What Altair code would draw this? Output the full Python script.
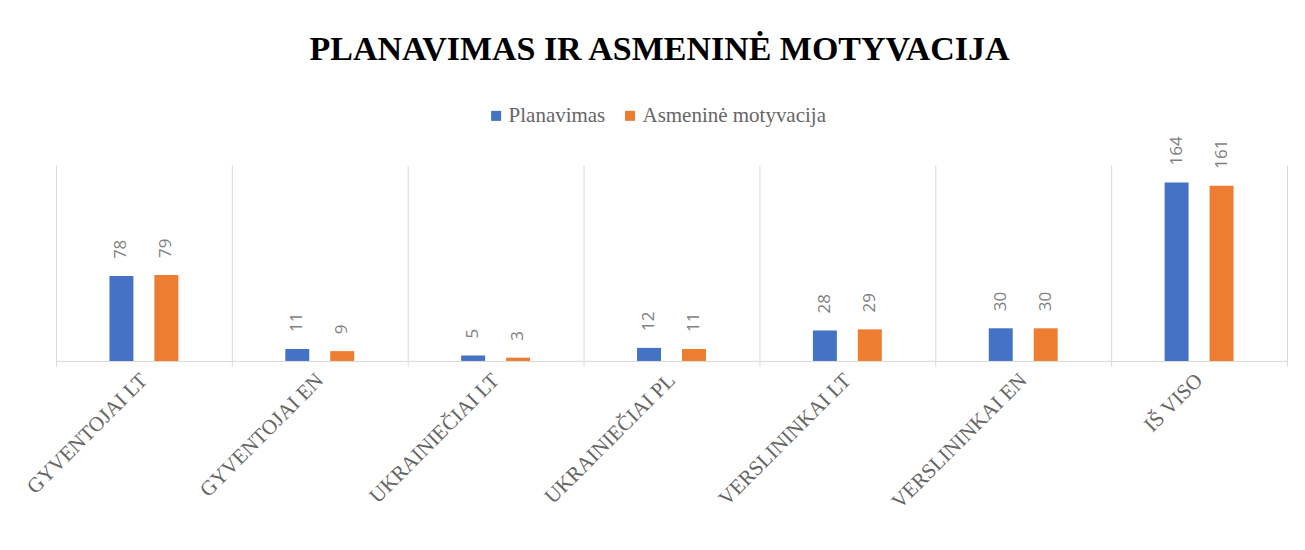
import altair as alt
import pandas as pd

categories = ["GYVENTOJAI LT", "GYVENTOJAI EN", "UKRAINIEČIAI LT", "UKRAINIEČIAI PL",
              "VERSLININKAI LT", "VERSLININKAI EN", "IŠ VISO"]
planavimas = [78, 11, 5, 12, 28, 30, 164]
motyvacija = [79, 9, 3, 11, 29, 30, 161]
series = ["Planavimas", "Asmeninė motyvacija"]
colors = ["#4472C4", "#ED7D31"]

rows = []
for c, p, m in zip(categories, planavimas, motyvacija):
    rows.append({"cat": c, "series": series[0], "value": p})
    rows.append({"cat": c, "series": series[1], "value": m})
df = pd.DataFrame(rows)

x = alt.X("cat:N", sort=categories, title=None,
          scale=alt.Scale(paddingInner=0, paddingOuter=0),
          axis=alt.Axis(labelAngle=-45, labelAlign="right", labelBaseline="middle",
                        labelFont="Liberation Serif", labelFontSize=21, labelColor="#666666",
                        labelPadding=11, tickBand="extent", grid=True, gridColor="#d9d9d9",
                        domainColor="#d9d9d9", tickColor="#d9d9d9", tickSize=5,
                        labelOverlap=False, labelLimit=400))
offset_domain = ["_l"] + series + ["_r"]
xo = alt.XOffset("series:N",
                 scale=alt.Scale(domain=offset_domain, paddingInner=0.467, paddingOuter=0.19))
y = alt.Y("value:Q", scale=alt.Scale(domain=[0, 180]), axis=None)

base = alt.Chart(df).encode(x=x, xOffset=xo, y=y)

bars = base.mark_bar().encode(
    color=alt.Color("series:N", sort=series,
                    scale=alt.Scale(domain=series, range=colors),
                    legend=alt.Legend(title=None, orient="none", direction="horizontal",
                                      legendX=430, legendY=-60,
                                      symbolType="square", symbolSize=100,
                                      symbolStrokeWidth=0,
                                      labelFont="Liberation Serif", labelFontSize=21,
                                      labelColor="#666666", columnPadding=14,
                                      labelOffset=2, labelLimit=400))
)

labels = base.mark_text(angle=270, align="left", baseline="middle", dx=17,
                        font="Open Sans", fontSize=17, color="#7f7f7f").encode(
    text=alt.Text("value:Q")
)

chart = alt.layer(bars, labels).properties(
    width=1232, height=196,
    title=alt.TitleParams("PLANAVIMAS IR ASMENINĖ MOTYVACIJA", font="Liberation Serif",
                          fontSize=34, fontWeight="bold", color="#000000",
                          anchor="middle", offset=38, dx=-12),
    autosize=alt.AutoSizeParams(type="none"),
    padding={"left": 48, "top": 157, "right": 10, "bottom": 180},
    background="white",
).configure_view(stroke=None)

chart.save("out.html", embed_options={"renderer": "svg", "actions": False})
